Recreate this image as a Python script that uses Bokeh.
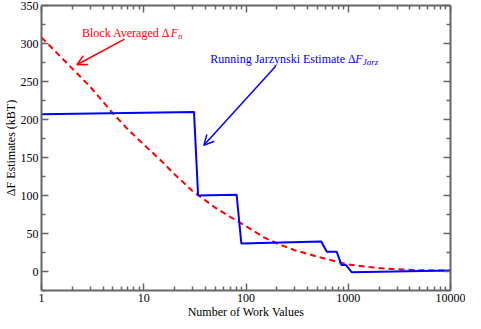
import math
from bokeh.plotting import figure
from bokeh.models import (LogAxis, LinearAxis, FixedTicker, PrintfTickFormatter,
                          Arrow, OpenHead, Label)
from bokeh.embed import file_html
from bokeh.resources import INLINE

# ---------------- data ----------------
x_ticks = [1, 10, 100, 1000, 10000]
x_tick_labels = ["1", "10", "100", "1000", "10000"]
y_ticks = [0, 50, 100, 150, 200, 250, 300, 350]
y_tick_labels = ["0", "50", "100", "150", "200", "250", "300", "350"]

# Block averaged Delta F_n (red dashed)
block_n = [1, 1.5, 2, 3, 5, 7, 10, 15, 20, 30, 50, 70, 100, 150, 200, 300,
           500, 700, 1000, 1500, 2000, 3000, 5000, 10000]
block_df = [308, 284, 267, 243, 208, 187, 167, 145, 128, 106, 84, 72, 59.5,
            45, 37, 28, 19.5, 14.5, 9.2, 6.2, 4.5, 3, 1.8, 1]

# Running Jarzynski estimate (blue)
jarz_n = [1, 31, 34, 81, 90, 544, 617, 771, 859, 951, 1083, 10000]
jarz_df = [207, 210, 100, 101, 37, 39.5, 26, 26, 8.5, 8.5, -1, 1.3]

# annotation arrows (start -> end, data coords)
red_arrow = (6.48, 305.8, 2.22, 272)
blue_arrow = (195, 270, 38.7, 166)

x_title = "Number of Work Values"
y_title = "\u0394F Estimates (kBT)"

FONT = "Liberation Serif"
RED = "#ff0000"
BLUE = "#0000ff"
AXC = "#666666"

p = figure(width=465, height=321, x_axis_type="log",
           x_range=(1, 10000), y_range=(-25, 350),
           output_backend="svg", toolbar_location=None, title=None,
           min_border_left=0, min_border_right=15, min_border_top=5,
           min_border_bottom=0)
p.outline_line_color = None
p.grid.visible = False
p.background_fill_color = "white"

minor_x = [m * 10 ** d for d in range(4) for m in range(2, 10)]
minor_y = [-25] + [v + 25 for v in y_ticks[:-1]]


def style_axis(ax, labels=True):
    ax.axis_line_color = AXC
    ax.axis_line_width = 2
    ax.major_tick_line_color = AXC
    ax.minor_tick_line_color = AXC
    ax.major_tick_line_width = 1.5
    ax.minor_tick_line_width = 1.5
    ax.major_tick_in = 7
    ax.major_tick_out = 0
    ax.minor_tick_in = 4
    ax.minor_tick_out = 0
    ax.major_label_text_font = FONT
    ax.major_label_text_color = "black"
    ax.major_label_text_font_size = "12px"
    ax.axis_label_text_font = FONT
    ax.axis_label_text_font_size = "12px"
    ax.axis_label_text_font_style = "normal"
    ax.axis_label_text_color = "black"
    if not labels:
        ax.major_label_text_alpha = 0
        ax.major_label_text_font_size = "1px"
        ax.major_label_standoff = 0


xb = p.xaxis[0]
xb.ticker = FixedTicker(ticks=x_ticks, minor_ticks=minor_x)
xb.formatter = PrintfTickFormatter(format="%d")
xb.major_label_standoff = 3
xb.axis_label = x_title
xb.axis_label_standoff = 0
style_axis(xb)

yl = p.yaxis[0]
yl.ticker = FixedTicker(ticks=y_ticks, minor_ticks=minor_y)
yl.major_label_standoff = 3
yl.axis_label = y_title
yl.axis_label_standoff = 0
style_axis(yl)

xt = LogAxis(ticker=FixedTicker(ticks=x_ticks, minor_ticks=minor_x))
style_axis(xt, labels=False)
p.add_layout(xt, "above")
yr = LinearAxis(ticker=FixedTicker(ticks=y_ticks, minor_ticks=minor_y))
style_axis(yr, labels=False)
p.add_layout(yr, "right")

# ---------------- lines ----------------
p.line(block_n, block_df, line_color=RED, line_width=2, line_dash="6 4")
p.line(jarz_n, jarz_df, line_color=BLUE, line_width=2)

for (xs, ys, xe, ye), c in ((red_arrow, RED), (blue_arrow, BLUE)):
    p.add_layout(Arrow(x_start=xs, y_start=ys, x_end=xe, y_end=ye,
                       line_color=c, line_width=1.5,
                       end=OpenHead(size=10, line_color=c, line_width=1.5)))

# ---------------- rich text helpers ----------------
W_REG = {" ": 250, "(": 333, ")": 333, "A": 722, "B": 667, "E": 611, "J": 389,
         "N": 722, "R": 667, "V": 722, "W": 944, "a": 444, "b": 500, "c": 444,
         "d": 500, "e": 444, "f": 333, "g": 500, "i": 278, "k": 500, "l": 278,
         "m": 778, "n": 500, "o": 500, "r": 333, "s": 389, "t": 278, "u": 500,
         "v": 500, "y": 500, "z": 444, "\u0394": 612}
W_IT = {"F": 611, "n": 500, "J": 444, "a": 500, "r": 389, "z": 389, "k": 444,
        "B": 611, "T": 556}


def tw(s, size, italic):
    table = W_IT if italic else W_REG
    return sum(table.get(ch, 500) for ch in s) * size / 1000.0


def rich(x, y, pieces, color, size=12, sub_size=9):
    pos = 0.0
    for text, italic, sub in pieces:
        sz = sub_size if sub else size
        p.add_layout(Label(x=x, y=y, text=text, text_font=FONT,
                           text_font_size=f"{sz}px",
                           text_font_style="italic" if italic else "normal",
                           text_color=color, text_align="left",
                           text_baseline="alphabetic",
                           x_offset=pos, y_offset=-3 if sub else 0))
        pos += tw(text, sz, italic)


rich(2.49, 314, [("Block Averaged \u0394", False, False), ("F", True, False),
                 ("n", True, True)], RED)
rich(44.8, 280, [("Running Jarzynski Estimate \u0394", False, False),
                 ("F", True, False), ("Jarz", True, True)], BLUE)

open("out.html", "w").write(file_html(p, INLINE))
